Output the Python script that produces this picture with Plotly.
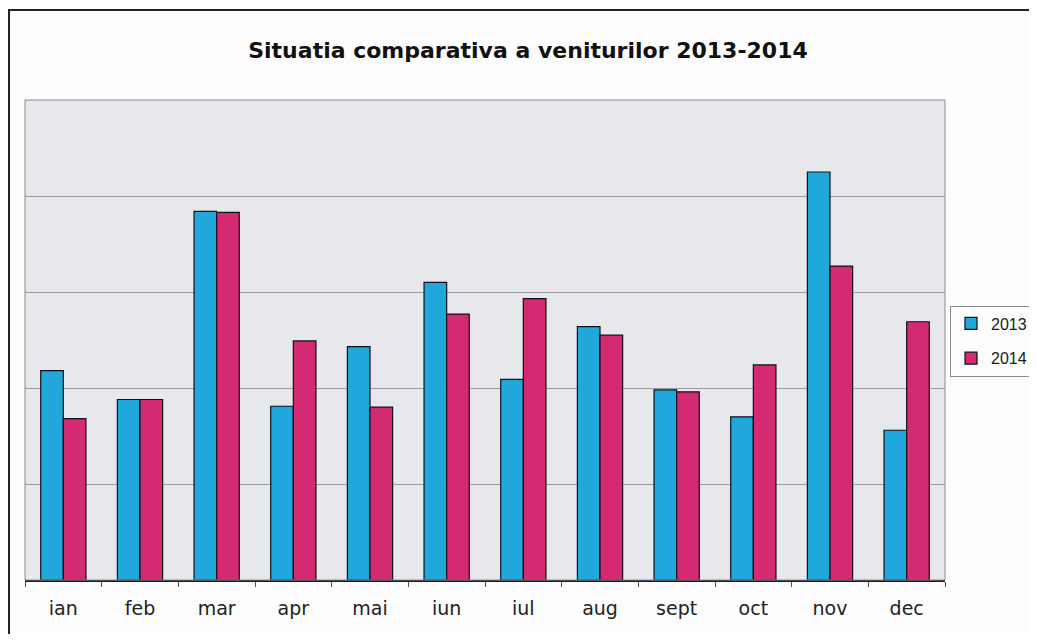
import plotly.graph_objects as go

months = ["ian", "feb", "mar", "apr", "mai", "iun", "iul", "aug", "sept", "oct", "nov", "dec"]
venit_2013 = [218, 188, 384, 181, 243, 310, 209, 264, 198, 170, 425, 156]
venit_2014 = [168, 188, 383, 249, 180, 277, 293, 255, 196, 224, 327, 269]
series_names = ["2013", "2014"]
series_colors = ["#20a8dd", "#d42a72"]

# the page body adds an 8px margin, so the figure is drawn 8px in from the window edge
OFF = 8
W, H = 1037 - 2 * OFF, 642 - 2 * OFF
L, R, T, B = 25 - OFF, 945 - OFF, 100 - OFF, 580 - OFF

fig = go.Figure()
for name, vals, col in zip(series_names, [venit_2013, venit_2014], series_colors):
    fig.add_trace(go.Bar(
        x=months, y=vals, name=name, legendgroup=name,
        marker=dict(color=col, line=dict(color="#101018", width=1.2)),
    ))

pw, ph = R - L, B - T
def px_x(p):  # p in reference window pixels
    return (p - OFF - L) / pw
def px_y(p):
    return (B - (p - OFF)) / ph

fig.update_layout(
    width=W, height=H,
    margin=dict(l=L, r=W - R, t=T, b=H - B, autoexpand=False),
    paper_bgcolor="#fdfdfd",
    plot_bgcolor="#e7e8eb",
    barmode="group",
    bargap=0.41,
    bargroupgap=0.0,
    font=dict(family="DejaVu Sans", color="#222222"),
    title=dict(
        text="<b>Situatia comparativa a veniturilor 2013-2014</b>",
        font=dict(family="DejaVu Sans", size=22, color="#111111"),
        x=(528 - OFF) / W, xanchor="center", xref="container",
        y=1 - (50 - OFF) / H, yanchor="middle", yref="container",
    ),
    xaxis=dict(
        showgrid=False,
        showline=True, linecolor="#1a1a22", linewidth=1.5,
        ticks="outside", ticklen=5, tickcolor="#555555",
        tickson="boundaries",
        tickfont=dict(size=19, color="#222222", family="DejaVu Sans"),
        ticklabelstandoff=10,
    ),
    yaxis=dict(
        range=[0, 500], dtick=100,
        showgrid=True, gridcolor="#9a9a9e", gridwidth=1,
        showticklabels=False, zeroline=False, showline=False, ticks="",
    ),
    legend=dict(
        x=px_x(950), xanchor="left",
        y=px_y(341), yanchor="middle",
        bgcolor="#fdfdfd", bordercolor="#8a8a8a", borderwidth=1,
        font=dict(size=16, color="#1a1a1a", family="Liberation Sans"),
        tracegroupgap=11,
    ),
    showlegend=True,
    shapes=[
        # plot area border
        dict(type="rect", xref="paper", yref="paper", x0=0, x1=1, y0=0, y1=1,
             line=dict(color="#8c8c90", width=1), layer="above"),
        # outer chart border
        dict(type="rect", xref="paper", yref="paper",
             x0=px_x(9), x1=px_x(1060), y0=px_y(670), y1=px_y(10),
             line=dict(color="#1c2633", width=2), layer="below"),
    ],
)

fig.write_html("out.html")
